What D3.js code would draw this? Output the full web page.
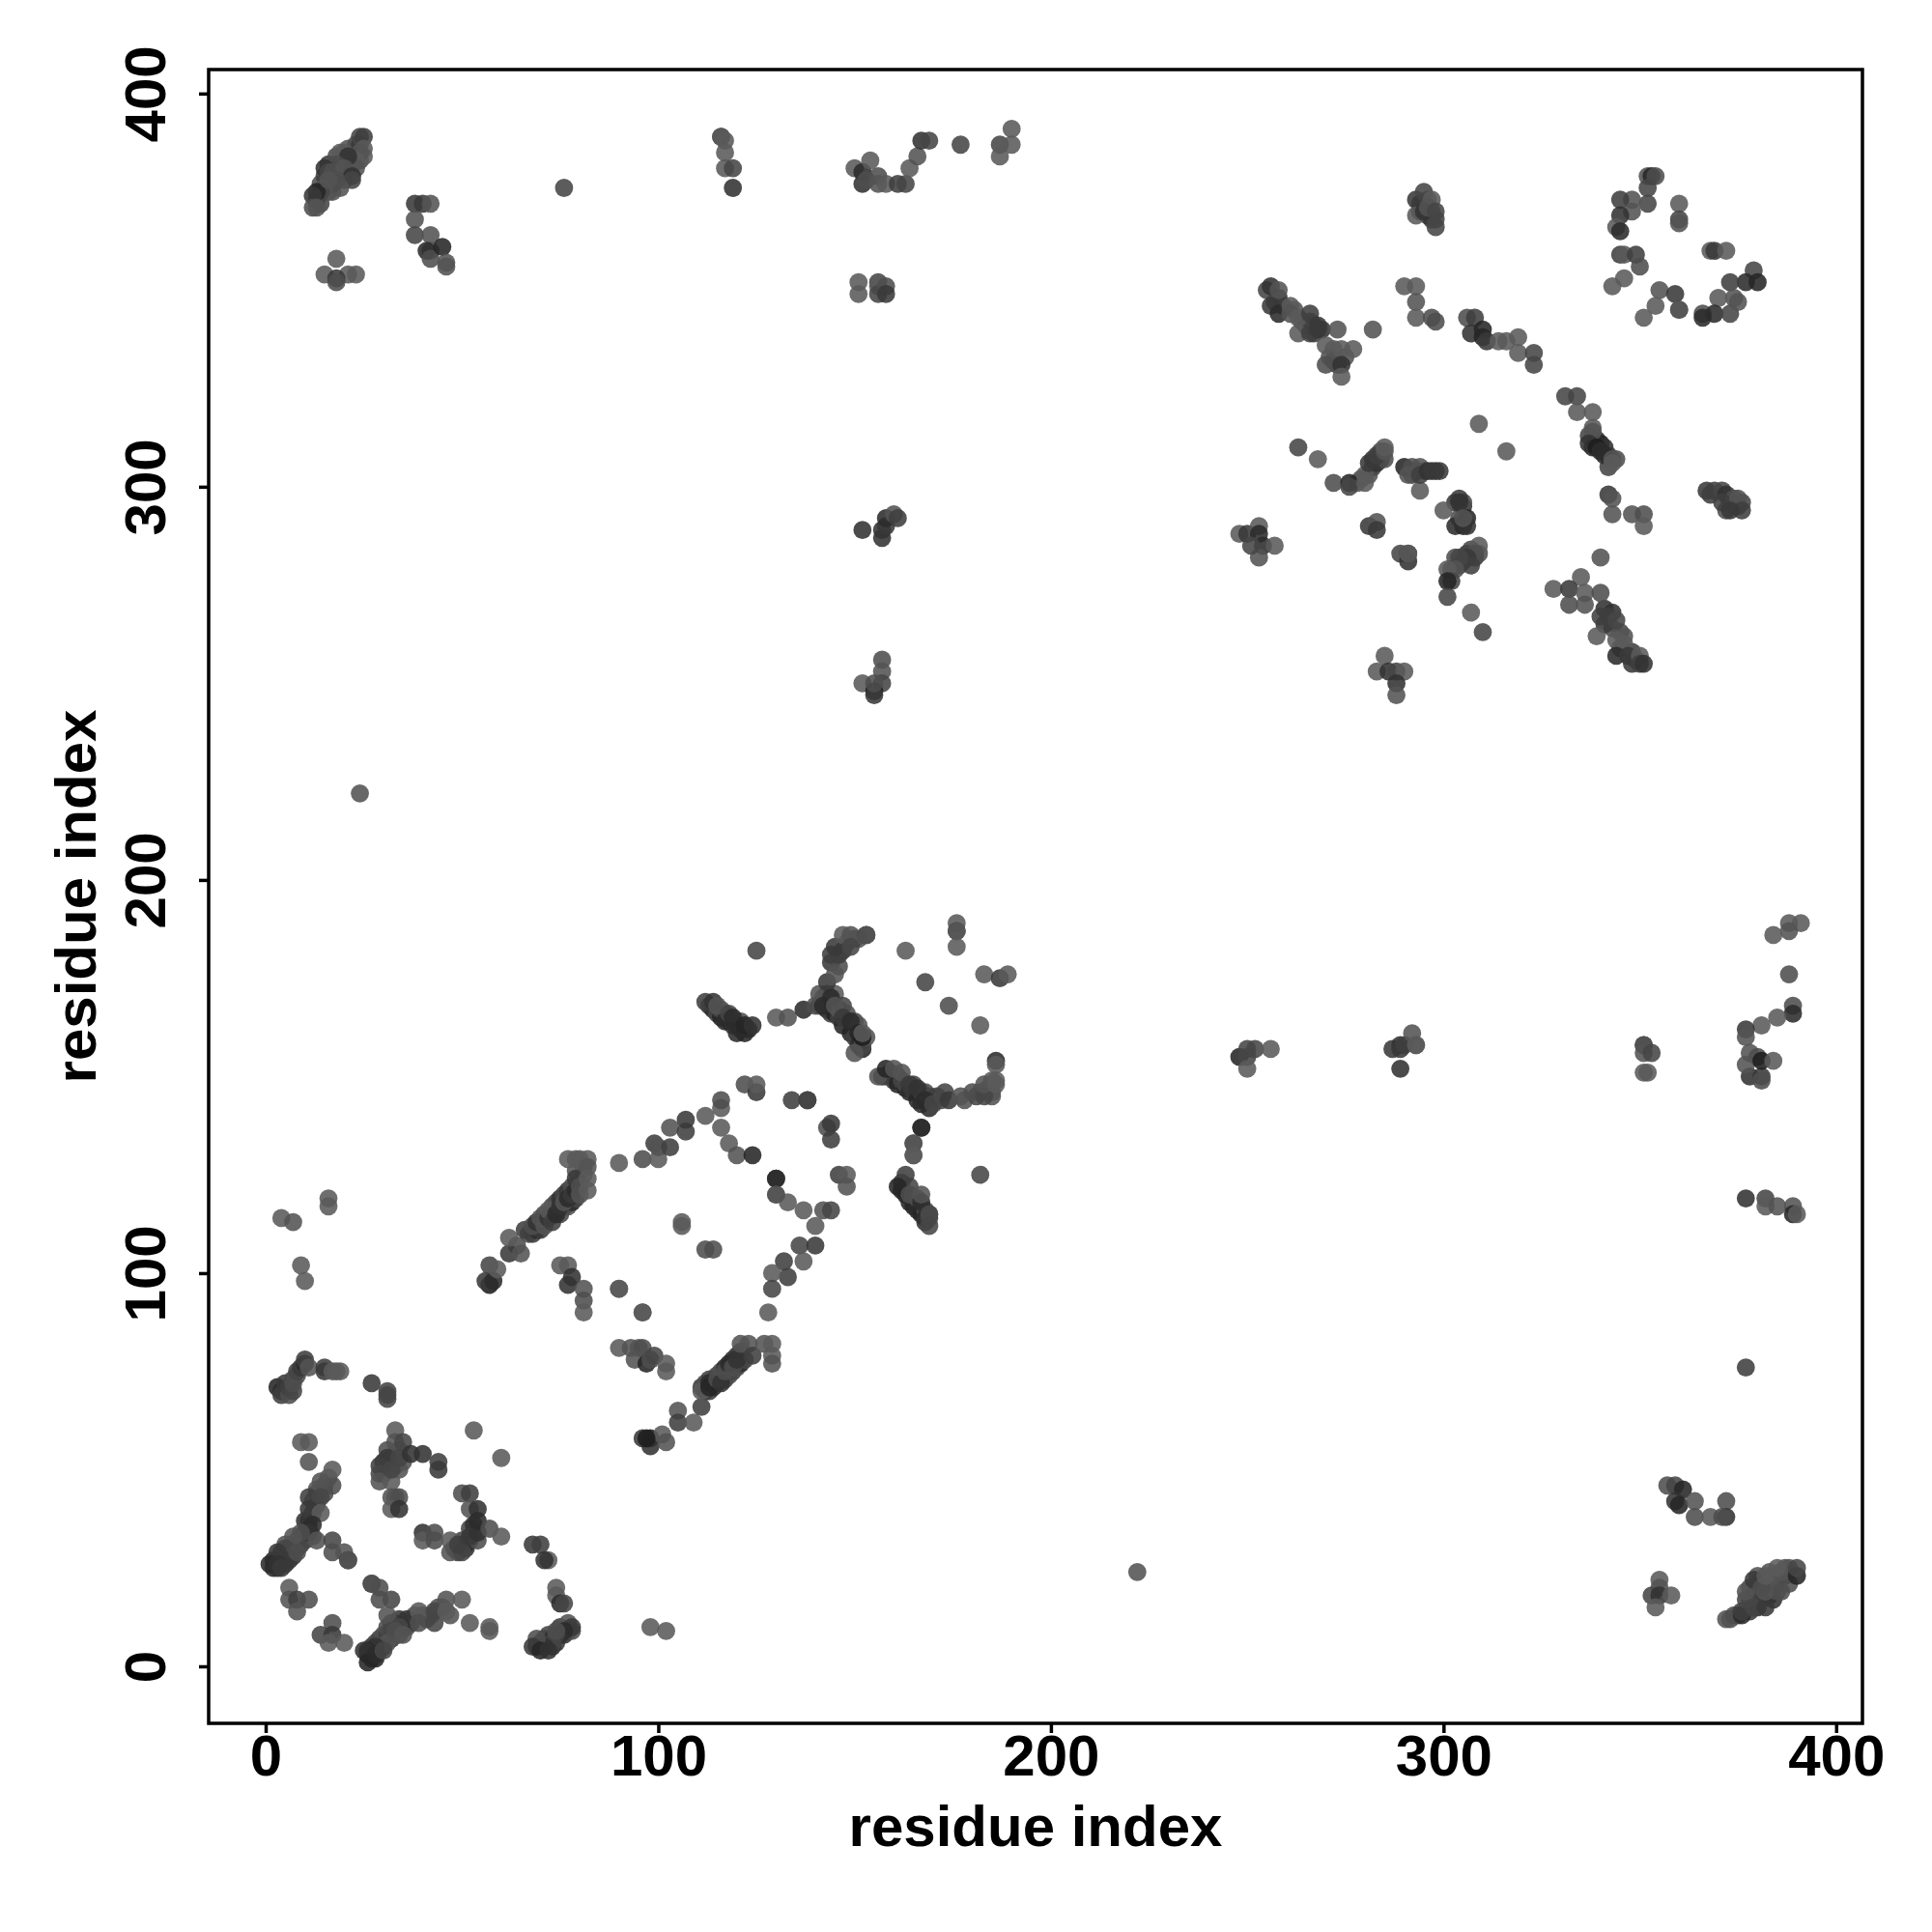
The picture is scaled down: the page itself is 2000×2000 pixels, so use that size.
<!DOCTYPE html>
<html><head><meta charset="utf-8">
<script src="https://cdn.jsdelivr.net/npm/d3@7"></script>
<style>html,body{margin:0;padding:0;background:#fff}svg{display:block}</style></head>
<body><div id="chart"></div>
<script>
// contacts as [residue i, residue j, strength 0..9]
const bandDiagB=[[111,71,5],[112,70,6],[112,72,2],[113,70,4],[113,73,3],[114,71,7],[114,73,2],[115,72,5],[115,74,3],[116,73,7],[116,75,2],[117,73,3],[117,76,6],[118,74,2],[118,76,8],[119,75,3],[119,78,6],[120,76,2],[120,79,5],[121,77,7],[121,80,4],[122,78,3]];
const bandDiagA=[[64,107,2],[67,110,2],[68,110,4],[69,111,7],[70,111,5],[70,113,3],[71,114,7],[71,115,2],[72,115,4],[73,115,7],[73,117,2],[74,116,5],[74,118,2],[75,115,3],[75,119,6],[76,117,7],[76,120,3],[77,117,2],[77,121,5],[78,118,7],[78,122,2],[79,119,3],[80,123,2],[81,125,1],[79,126,1],[81,127,0]];
const bandSpurE=[[113,168,5],[114,167,7],[115,166,3],[116,165,8],[116,167,2],[117,166,4],[118,164,7],[119,163,5],[120,163,3],[120,161,7],[121,164,2],[122,161,8],[123,162,7],[141,168,4],[142,170,2],[143,171,3],[143,167,8],[144,166,4],[145,171,0],[145,166,8],[146,165,4],[146,167,1],[147,163,8],[147,168,3],[148,163,4],[148,166,2],[149,161,8],[150,160,4],[150,164,3],[151,158,7],[151,163,1],[152,157,8],[152,158,3],[153,160,1],[144,179,5],[146,178,2],[147,182,5],[148,184,2],[150,185,3],[151,185,1],[144,181,4]];
const bandSpurF=[[157,150,7],[158,150,3],[159,151,8],[160,149,4],[161,150,6],[161,148,8],[162,149,3],[163,147,8],[163,148,3],[164,146,7],[165,148,3],[165,146,5],[166,144,8],[167,146,3],[167,143,7],[168,146,2],[169,145,3],[171,145,4],[172,144,2],[173,146,3],[178,144,1],[181,145,3],[182,146,2],[184,147,1],[185,146,1],[185,149,0],[185,145,1]];
const bandSideD=[[162,121,7],[162,123,5],[163,120,8],[164,122,3],[164,118,8],[165,119,3],[165,117,8],[166,116,7],[166,119,2],[167,115,8],[168,116,2],[168,114,7],[168,113,6],[169,114,3]];
const bandLowA=[[2,27,6],[2,25,7],[3,27,5],[3,25,6],[4,27,7],[4,29,4],[5,26,6],[5,28,4],[6,29,3],[6,30,2],[7,28,4],[7,31,2],[8,32,1],[8,30,4],[9,31,3],[9,33,2],[10,34,4],[10,32,3],[11,35,4],[12,33,2],[10,37,6],[11,37,6],[12,39,4],[12,42,3],[13,41,5],[13,44,2],[15,46,1],[15,44,2],[16,48,0]];
const bandLowB=[[26,3,7],[27,2,7],[27,4,6],[27,5,5],[28,6,3],[28,2,8],[29,4,7],[29,7,3],[30,5,5],[30,8,2],[31,8,4],[31,10,2],[32,7,5],[32,11,3],[33,11,3],[34,8,2],[34,12,5],[35,10,2],[36,10,2],[37,11,4],[38,13,1],[40,13,2],[41,12,3],[42,13,2],[44,15,1],[45,15,0],[47,13,1]];
const bandLowC=[[30,49,5],[30,52,6],[31,50,4],[31,55,2],[32,53,5],[32,52,3],[33,51,3],[33,54,2],[34,50,1],[34,55,1],[35,52,1],[48,30,3],[49,29,5],[50,31,6],[50,32,3],[51,31,5],[51,30,6],[52,32,6],[52,35,3],[53,34,4],[53,36,6],[54,32,2]];
const bandLowD=[[69,5,6],[70,6,5],[71,6,7],[71,7,3],[72,6,7],[72,8,3],[73,7,6],[73,5,6],[74,6,5],[75,8,4],[75,10,5],[76,8,6],[77,9,4],[77,11,1],[78,9,2]];
const bandRightC=[[373,12,2],[375,13,4],[378,14,5],[378,17,3],[378,20,1],[379,18,2],[380,15,6],[380,20,3],[380,23,1],[381,17,4],[381,22,2],[383,18,4],[383,21,2],[383,24,1],[384,17,6],[384,20,2],[385,19,2],[385,22,1],[387,23,4],[387,25,1],[388,21,2],[388,25,1]];
const bandTopA=[[13,373,6],[14,372,3],[14,377,2],[15,379,4],[16,375,2],[16,382,5],[17,375,1],[17,378,3],[18,380,4],[18,384,2],[19,379,2],[19,382,5],[20,383,3],[20,378,5],[21,381,3],[21,386,1],[22,382,6],[22,385,1],[23,385,0],[23,387,2],[24,383,2],[24,387,5],[25,384,0]];
const bandQuad=[[262,345,1],[264,342,2],[265,341,3],[267,341,3],[267,339,4],[269,340,6],[266,342,3],[258,348,6],[259,346,6],[257,347,4],[271,333,1],[272,335,1],[273,331,5],[272,332,1],[275,333,1],[281,303,1],[282,305,3],[283,306,6],[284,309,2],[284,307,5],[285,307,2],[279,302,1],[278,301,1],[292,303,3],[293,304,4],[295,304,3],[298,304,6],[299,304,5],[303,296,5],[305,295,6],[305,290,8],[304,292,2],[305,296,2],[302,279,2],[303,282,2],[304,280,4],[305,281,5],[306,283,6],[307,284,3],[308,282,5],[309,283,2],[345,263,2],[343,264,2],[346,262,1],[345,259,0],[348,258,4],[349,256,5],[348,255,5],[341,265,5],[341,269,6],[343,268,6],[337,313,3],[338,310,8],[339,312,6],[340,311,8],[341,310,6],[342,308,5],[342,305,3],[344,307,2],[294,372,5],[295,372,3],[296,373,1],[296,369,7],[297,368,5],[297,370,2],[298,368,3],[294,370,5],[367,299,5],[368,298,4],[369,299,4],[371,299,3],[372,298,6],[373,296,7],[374,295,6],[375,295,5],[376,296,3],[374,297,2],[372,294,2],[371,296,4],[375,297,1],[376,294,4],[373,294,5]];
const arcA=[[3,71,8],[4,70,7],[4,69,4],[5,72,5],[6,69,2],[6,71,4],[7,70,3],[7,73,3],[7,72,2],[8,74,2],[8,75,3],[9,76,5],[10,77,7],[10,78,4],[11,76,1],[15,76,4],[15,75,5],[17,75,0],[18,75,0],[19,75,0]];
const pairB=[[27,72,5],[31,70,3],[31,69,3],[31,68,3],[9,57,0],[11,57,0],[11,52,1]];
const stemC=[[17,46,2],[17,50,0],[14,47,1],[13,45,1],[11,43,4],[14,43,3],[11,40,5],[14,39,0],[12,36,7],[11,34,6],[9,34,2],[7,33,1],[5,31,1],[5,30,3],[3,29,5],[6,27,5],[8,29,2],[1,26,7],[3,26,6],[4,25,5],[13,32,1],[17,32,3],[17,29,2],[20,29,1],[21,27,7],[21,27,1]];
const stemD=[[33,60,0],[33,57,1],[35,57,3],[31,53,5],[29,51,4],[29,49,3],[29,47,1],[32,47,0],[32,50,3],[34,53,3],[37,54,6],[40,54,6],[44,52,4],[44,50,5],[32,43,1],[33,43,1],[34,43,2],[32,40,0],[34,40,6]];
const stemE=[[40,34,6],[40,32,0],[43,34,2],[43,32,2],[47,32,0],[47,29,1],[50,29,3],[49,31,4],[52,33,5],[54,34,6],[50,44,2],[52,44,4],[52,40,1],[54,40,6],[54,37,7],[57,35,2],[60,33,0],[53,60,0],[60,53,0]];
const stemF=[[68,31,5],[70,31,4],[72,27,0],[71,27,6],[74,20,0],[74,18,0],[75,16,7],[76,16,3],[78,10,5],[76,9,7],[74,8,4],[73,6,3],[71,5,6],[69,7,2],[68,5,5],[70,4,8],[72,4,6],[74,9,2],[98,10,0],[102,9,0]];
const stemG=[[90,81,0],[93,81,1],[95,81,1],[96,81,2],[94,78,1],[97,77,8],[98,78,2],[99,79,3],[102,77,0],[102,75,0],[96,90,0],[90,96,0],[98,58,9],[96,58,5],[98,56,6],[101,59,0],[102,57,1]];
const lowG=[[6,20,0],[6,17,1],[8,17,4],[8,14,1],[11,17,2],[17,11,2],[14,8,3],[17,8,5],[16,6,0],[20,6,0]];
const lowH=[[27,21,7],[27,21,1],[29,20,2],[32,17,3],[29,17,2],[31,13,1],[36,12,6],[34,10,3],[32,9,3],[31,6,1],[28,5,6],[26,4,7],[25,4,6],[26,1,8],[28,3,7],[30,4,3],[33,9,2],[35,8,1],[39,14,0],[39,11,2],[43,14,3],[43,11,3],[46,17,1],[46,14,0],[50,17,0],[52,11,0],[57,10,0],[57,9,0]];
const diagA=[[57,97,9],[56,98,5],[58,98,7],[57,102,3],[59,101,0],[62,105,5],[62,109,0],[65,105,1],[66,111,4],[68,112,2],[69,113,6],[70,114,1],[71,112,1],[72,114,6],[72,116,0],[73,113,4],[74,115,7],[75,117,6],[76,118,1],[77,119,7],[78,120,5],[79,121,7],[80,120,1],[79,124,5],[80,122,2],[77,129,0],[79,129,0],[80,129,0],[82,129,0],[82,127,1],[82,124,0],[82,121,0]];
const upperB=[[90,128,0],[96,129,2],[100,129,0],[99,133,4],[100,132,1],[103,132,4],[103,137,1],[107,136,4],[107,139,5],[112,140,0],[116,137,0],[116,142,0],[116,144,2],[118,133,0],[120,130,1],[124,130,8],[130,124,8],[130,120,1],[133,118,0],[137,116,0],[142,116,1],[144,116,3],[140,112,0],[143,137,2],[144,138,5],[144,134,4],[146,125,4],[148,125,0],[148,122,1]];
const rungC=[[136,107,3],[140,107,5],[137,103,0],[132,103,4],[133,99,4],[129,100,0],[129,96,3],[128,90,0],[106,113,0],[106,112,0],[112,106,2],[114,106,2],[75,102,0],[77,102,0],[78,99,6],[77,97,6],[81,96,1],[81,93,2],[81,90,0],[90,96,0],[96,90,0]];
const diagB=[[97,58,9],[105,65,1],[105,62,4],[109,62,0],[111,66,4],[111,70,0],[113,72,7],[113,71,8],[115,73,2],[116,72,6],[117,75,2],[118,77,7],[119,76,2],[120,78,6],[121,82,1],[123,82,1],[124,79,4],[127,82,1],[129,82,0],[129,79,0],[129,77,1]];
const sideD=[[163,125,4],[161,122,8],[164,120,2],[167,118,7],[167,120,1],[169,115,9],[169,115,2],[169,112,3],[165,133,0],[165,130,0],[167,137,7]];
const spurE=[[125,182,3],[112,169,4],[114,169,6],[115,168,1],[117,164,7],[118,166,3],[119,165,7],[121,162,7],[122,163,8],[124,163,6],[130,165,0],[133,165,1],[137,167,7],[140,168,2],[141,171,1],[143,174,5],[145,176,1],[146,181,4],[145,183,5],[147,186,0],[149,186,1],[149,183,3],[153,186,8],[153,186,1],[144,170,7],[142,168,7],[145,168,1],[147,165,5],[149,164,7],[150,156,1],[151,161,8],[152,160,9],[152,161,0]];
const spurF=[[163,182,0],[176,189,0],[176,187,8],[176,187,0],[176,183,0],[168,174,3],[174,168,2],[182,163,0],[183,176,0],[187,175,5],[189,176,0],[156,150,1],[158,152,8],[160,152,1],[162,151,1],[164,148,5],[166,147,6],[168,144,7],[169,142,7],[170,143,3],[174,144,5],[177,145,1],[180,146,2],[183,145,3],[183,148,1],[186,148,0],[186,149,0],[186,154,7],[186,153,0],[167,137,7],[165,133,1],[165,130,0],[182,125,3]];
const loopG=[[122,148,2],[125,146,5],[125,148,0],[134,144,4],[138,144,8],[138,144,3],[130,124,7],[130,120,1]];
const topQuadA=[[255,350,3],[256,351,6],[258,350,1],[256,346,5],[258,344,7],[261,346,0],[261,344,1],[263,343,0],[263,339,0],[266,344,4],[268,341,5],[266,339,4],[268,340,5],[273,340,1],[270,336,0],[270,331,2],[274,335,0],[277,335,0],[274,331,6],[274,328,0],[282,340,1]];
const topQuadB=[[290,351,0],[293,351,0],[293,347,1],[293,343,0],[297,343,2],[298,342,2],[306,343,2],[308,343,4],[307,339,6],[310,340,8],[310,338,8],[311,337,5],[314,337,0],[316,337,0],[319,338,0],[319,334,0],[323,334,3],[323,331,3]];
const topQuadC=[[331,323,3],[334,323,3],[334,319,0],[338,319,0],[338,315,0],[338,314,1],[337,311,6],[339,310,9],[340,309,7],[341,308,7],[343,307,1],[343,306,0],[342,298,5],[343,297,1],[343,293,1],[348,293,1],[351,293,2],[351,290,0],[309,316,0],[316,309,0]];
const topQuadD=[[263,310,3],[268,307,0],[272,301,2],[276,301,8],[276,300,3],[280,301,0],[280,303,0],[281,306,5],[282,307,5],[283,308,4],[285,309,1],[285,310,0]];
const topQuadE=[[290,305,8],[292,305,2],[294,305,1],[291,303,1],[294,299,0],[294,303,4],[296,304,6],[297,304,5],[304,297,5],[304,296,6],[300,294,0],[303,290,7],[306,292,8],[306,290,6],[305,292,1]];
const topQuadF=[[281,290,5],[283,291,1],[283,289,5],[289,283,3],[291,283,6],[291,281,6],[291,283,0],[309,285,0],[308,283,2],[306,282,5],[307,280,4],[304,282,3],[303,279,1],[301,279,0],[302,276,3],[301,276,8],[301,272,3],[307,268,0],[310,263,3]];
const topQuadG=[[340,282,1],[335,277,0],[328,274,0],[332,274,5],[336,273,0],[340,273,2],[332,270,2],[336,270,1],[340,267,4],[342,267,4],[344,266,3],[339,262,0],[344,261,0],[346,260,0],[344,257,7],[347,257,5],[350,257,0],[350,255,4],[351,255,6],[248,288,0],[250,288,5],[253,290,0],[253,288,7],[254,285,7],[253,282,1],[257,285,0],[251,285,3]];
const topQuadH=[[285,257,0],[283,253,0],[286,253,6],[288,253,3],[290,253,0],[288,250,6],[288,247,1]];
const cornerA=[[293,373,5],[295,375,3],[297,373,0],[293,369,0],[295,370,6],[296,371,1],[298,370,3],[298,366,3],[352,379,1],[353,379,8],[354,379,2],[352,376,3],[352,372,3],[348,373,1],[345,373,4],[348,370,1],[345,369,6],[344,366,0],[345,365,7],[360,372,0],[360,368,3],[360,367,1]];
const cornerB=[[345,359,4],[346,359,0],[349,359,4],[350,356,2],[346,353,0],[343,351,0],[368,360,0],[369,360,5],[372,360,0],[355,350,1],[359,349,5],[354,346,0],[351,343,0],[360,345,7],[360,345,0],[379,355,3],[377,352,7],[380,352,8],[373,352,4],[374,348,1],[370,348,0],[366,344,2],[366,343,7],[369,344,7],[373,344,3],[375,347,1]];
const midA=[[151,352,0],[151,349,0],[156,352,3],[156,351,0],[156,349,3],[158,351,2],[158,349,5],[152,289,6],[157,287,6],[157,289,6],[158,290,5],[158,292,7],[160,293,1],[161,292,4],[157,256,2],[157,253,1],[157,250,3],[152,250,0],[155,248,9],[155,247,5],[155,250,2]];
const midB=[[248,155,8],[250,157,3],[250,155,3],[252,157,3],[250,152,0],[256,157,0],[287,157,5],[289,158,6],[289,157,5],[290,158,4],[292,161,1],[293,158,1],[293,158,0],[289,152,6]];
const rightA=[[388,176,2],[389,168,2],[389,166,7],[385,165,0],[381,163,0],[377,162,5],[377,160,1],[378,156,1],[380,155,2],[378,150,6],[381,150,5],[381,149,2],[377,153,1],[381,154,9],[384,154,0],[351,158,7],[351,158,1],[351,156,1],[353,156,3],[351,151,0],[352,151,0],[377,119,6],[382,119,3],[382,117,0],[385,117,1],[389,117,1],[389,115,8],[390,115,0],[388,189,0],[391,189,0],[388,187,1],[384,186,0],[377,76,4]];
const rightB=[[357,46,2],[359,46,3],[361,45,8],[359,42,6],[360,41,8],[364,42,1],[364,38,2],[368,38,0],[372,42,2],[372,38,6],[371,38,2],[355,22,0],[355,20,1],[353,18,3],[355,18,6],[358,18,0],[354,15,0]];
const rightC=[[372,12,1],[374,13,2],[376,13,7],[376,14,4],[377,17,3],[377,19,1],[379,22,5],[379,15,3],[382,15,5],[382,19,1],[381,20,2],[384,23,1],[382,23,0],[386,19,2],[386,24,1],[385,25,0],[390,23,8],[390,25,3]];
const topA=[[24,389,3],[25,389,4],[25,386,0],[24,385,1],[23,383,0],[23,381,1],[20,385,0],[19,385,0],[21,384,6],[18,382,2],[15,381,6],[16,380,3],[17,380,2],[20,381,1],[22,379,6],[22,378,3],[19,376,1],[18,378,2],[17,377,2],[15,376,1],[14,375,3],[13,375,8],[12,374,5],[12,371,2],[13,371,1],[16,378,1]];
const topB=[[38,372,5],[40,372,5],[42,372,1],[38,368,1],[38,364,3],[42,364,1],[42,360,1],[41,360,7],[42,358,2],[45,361,8],[46,357,1],[46,356,1],[18,358,0],[15,354,0],[21,354,0],[23,354,0],[18,353,5],[18,352,2]];
const topC=[[76,376,3],[116,389,8],[116,389,0],[117,388,0],[117,385,0],[117,381,0],[119,381,3],[119,376,6]];
const topD=[[150,381,0],[152,380,7],[152,377,6],[154,383,0],[153,378,2],[156,379,2],[156,377,1],[158,377,0],[161,377,4],[163,377,3],[164,381,0],[166,384,1],[167,388,6],[169,388,3],[177,387,3],[187,387,3],[190,391,0],[190,387,0],[187,384,0]];
const isolated=[[24,222,1],[222,24,1],[4,114,0],[7,113,1],[16,119,0],[16,117,0],[9,102,0],[10,98,0]];
const residues=[bandDiagB,bandDiagA,bandSpurE,bandSpurF,bandSideD,bandLowA,bandLowB,bandLowC,bandLowD,bandRightC,bandTopA,bandQuad,arcA,pairB,stemC,stemD,stemE,stemF,stemG,lowG,lowH,diagA,upperB,rungC,diagB,sideD,spurE,spurF,loopG,topQuadA,topQuadB,topQuadC,topQuadD,topQuadE,topQuadF,topQuadG,topQuadH,cornerA,cornerB,midA,midB,rightA,rightB,rightC,topA,topB,topC,topD,isolated];
const tickValues=[0,100,200,300,400];
const axisTitle="residue index";

(function(){
const svg=d3.select("#chart").append("svg").attr("width",2000).attr("height",2000);
const fl=216,fr=1928,ft=72,fb=1784;
const x=d3.scaleLinear().domain([-14.52,406.7]).range([fl,fr]);
const y=d3.scaleLinear().domain([-14.5,406.1]).range([fb,ft]);
const gray=d3.scaleLinear().domain([0,9]).range([90,30]);
const contacts=residues.flat();
svg.append("g").selectAll("circle").data(contacts).join("circle")
  .attr("cx",d=>x(d[0])).attr("cy",d=>y(d[1])).attr("r",9.4)
  .attr("fill",d=>{const g=Math.round(gray(d[2]));return `rgb(${g},${g},${g})`;})
  .attr("fill-opacity",0.88);
svg.append("rect").attr("x",fl).attr("y",ft).attr("width",fr-fl).attr("height",fb-ft)
  .attr("fill","none").attr("stroke","#000").attr("stroke-width",3.5);
const font="'Liberation Sans',Arial,sans-serif";
const gx=svg.append("g").attr("transform",`translate(0,${fb})`)
  .call(d3.axisBottom(x).tickValues(tickValues).tickSize(10).tickSizeOuter(0).tickFormat(d3.format("d")));
gx.select(".domain").remove();
gx.selectAll("line").attr("stroke","#000").attr("stroke-width",3.5);
gx.selectAll("text").attr("font-family",font).attr("font-weight","bold").attr("font-size",60).attr("fill","#000")
  .attr("y",54).attr("dy",0).attr("text-anchor","middle");
const gy=svg.append("g").attr("transform",`translate(${fl},0)`)
  .call(d3.axisLeft(y).tickValues(tickValues).tickSize(10).tickSizeOuter(0).tickFormat(d3.format("d")));
gy.select(".domain").remove();
gy.selectAll("line").attr("stroke","#000").attr("stroke-width",3.5);
gy.selectAll("text").attr("font-family",font).attr("font-weight","bold").attr("font-size",60).attr("fill","#000")
  .attr("x",0).attr("dy",0).attr("y",0).attr("text-anchor","middle")
  .attr("transform","translate(-45,0) rotate(-90)");
svg.append("text").attr("x",(fl+fr)/2).attr("y",1911).attr("text-anchor","middle")
  .attr("font-family",font).attr("font-weight","bold").attr("font-size",60).text(axisTitle);
svg.append("text").attr("transform",`translate(99,${(ft+fb)/2}) rotate(-90)`).attr("text-anchor","middle")
  .attr("font-family",font).attr("font-weight","bold").attr("font-size",60).text(axisTitle);
})();
</script></body></html>
